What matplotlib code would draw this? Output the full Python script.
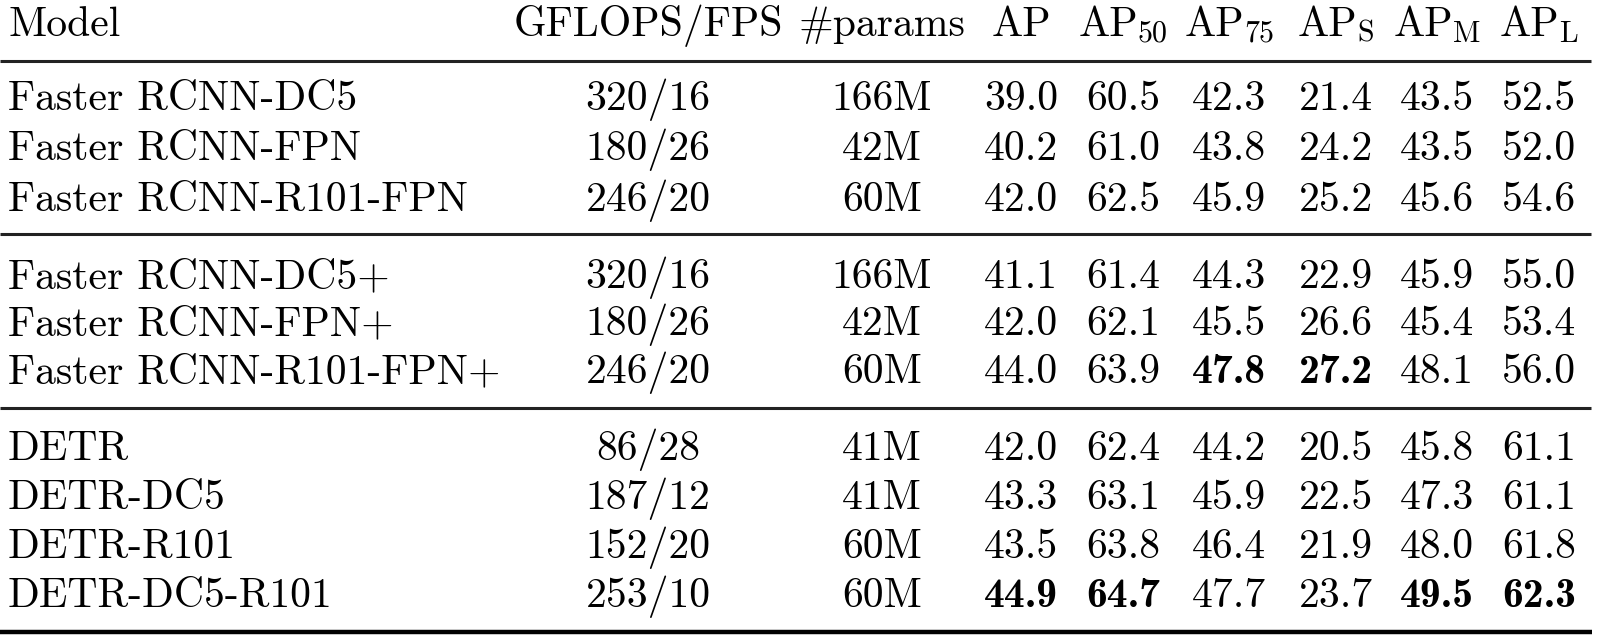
#!/usr/bin/env python3
"""Detection results table (COCO val) rendered as a figure."""

import matplotlib
matplotlib.use("Agg")
import matplotlib.pyplot as plt

plt.rcParams["axes.unicode_minus"] = False

# ---- table data ----
models = [
    "Faster RCNN-DC5", "Faster RCNN-FPN", "Faster RCNN-R101-FPN",
    "Faster RCNN-DC5+", "Faster RCNN-FPN+", "Faster RCNN-R101-FPN+",
    "DETR", "DETR-DC5", "DETR-R101", "DETR-DC5-R101",
]
gflops_fps = ["320/16", "180/26", "246/20", "320/16", "180/26", "246/20",
              "86/28", "187/12", "152/20", "253/10"]
params = ["166M", "42M", "60M", "166M", "42M", "60M", "41M", "41M", "60M", "60M"]
ap = [39.0, 40.2, 42.0, 41.1, 42.0, 44.0, 42.0, 43.3, 43.5, 44.9]
ap50 = [60.5, 61.0, 62.5, 61.4, 62.1, 63.9, 62.4, 63.1, 63.8, 64.7]
ap75 = [42.3, 43.8, 45.9, 44.3, 45.5, 47.8, 44.2, 45.9, 46.4, 47.7]
ap_s = [21.4, 24.2, 25.2, 22.9, 26.6, 27.2, 20.5, 22.5, 21.9, 23.7]
ap_m = [43.5, 43.5, 45.6, 45.9, 45.4, 48.1, 45.8, 47.3, 48.0, 49.5]
ap_l = [52.5, 52.0, 54.6, 55.0, 53.4, 56.0, 61.1, 61.1, 61.8, 62.3]
# header: (main text, subscript)
headers = [("Model", ""), ("GFLOPS/FPS", ""), ("#params", ""), ("AP", ""),
           ("AP", "50"), ("AP", "75"), ("AP", "S"), ("AP", "M"), ("AP", "L")]
# best results in bold: (row, column)
bold_cells = {(5, 5), (5, 6), (9, 3), (9, 4), (9, 7), (9, 8)}

# ---- layout (pixel units, baselines) ----
W, H = 1598, 637
col_x = [8, 648, 882, 1021, 1123, 1229, 1336, 1437, 1539]
header_y = 36
row_y = [110, 160, 211, 288, 335, 383, 460, 509, 558, 607]
rule_y = [61, 234, 408]
bottom_y = 632
FS = 30
SUB_SCALE = 0.72
SUB_DROP = 6

fig = plt.figure(figsize=(W / 100, H / 100), dpi=100)
ax = fig.add_axes([0, 0, 1, 1])
ax.set_xlim(0, W)
ax.set_ylim(H, 0)
ax.axis("off")
renderer = fig.canvas.get_renderer()

# header row (subscripts placed by hand, like LaTeX)
for j, (main, sub) in enumerate(headers):
    if not sub:
        ha = "left" if j == 0 else "center"
        ax.text(col_x[j], header_y, main, ha=ha, va="baseline", fontsize=FS, family="cmr10")
        continue
    t1 = ax.text(0, header_y, main, ha="left", va="baseline", fontsize=FS, family="cmr10")
    t2 = ax.text(0, header_y + SUB_DROP, sub, ha="left", va="baseline",
                 fontsize=FS * SUB_SCALE, family="cmr10")
    w1 = t1.get_window_extent(renderer).width
    w2 = t2.get_window_extent(renderer).width
    x0 = col_x[j] - (w1 + w2) / 2
    t1.set_x(x0)
    t2.set_x(x0 + w1)

cols = [models, gflops_fps, params,
        [f"{v:.1f}" for v in ap], [f"{v:.1f}" for v in ap50],
        [f"{v:.1f}" for v in ap75], [f"{v:.1f}" for v in ap_s],
        [f"{v:.1f}" for v in ap_m], [f"{v:.1f}" for v in ap_l]]

for i in range(len(models)):
    for j, col in enumerate(cols):
        ha = "left" if j == 0 else "center"
        fam = "cmb10" if (i, j) in bold_cells else "cmr10"
        ax.text(col_x[j], row_y[i], col[i], ha=ha, va="baseline", fontsize=FS, family=fam)

for y in rule_y:
    ax.plot([0, 1591], [y, y], color="#222222", lw=2.2, solid_capstyle="butt")
ax.plot([0, 1592], [bottom_y, bottom_y], color="black", lw=3.2, solid_capstyle="butt")

fig.savefig("out.png", dpi=100, facecolor="white")
